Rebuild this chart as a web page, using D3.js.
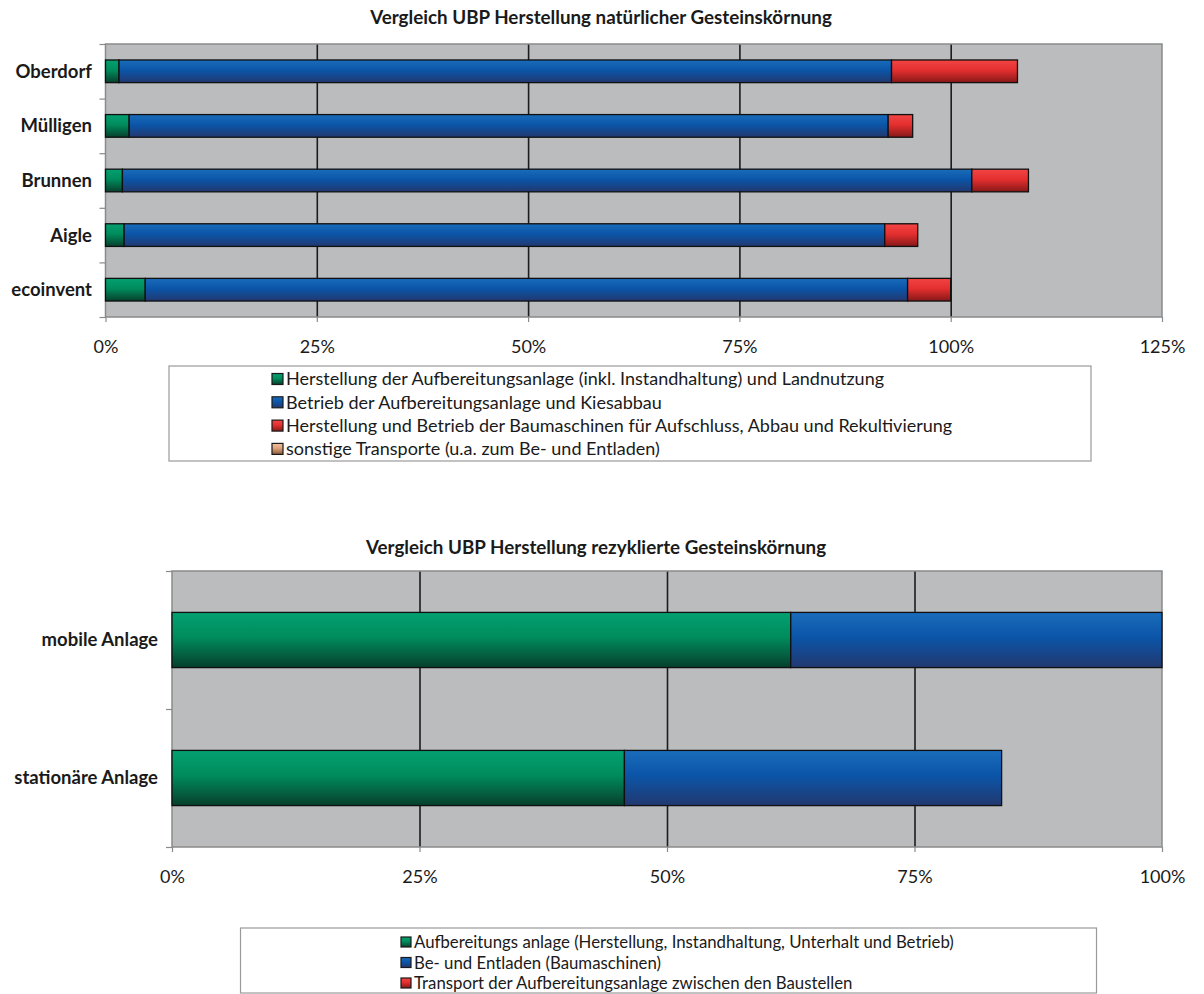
<!DOCTYPE html>
<html>
<head>
<meta charset="utf-8">
<script src="https://cdn.jsdelivr.net/npm/d3@7"></script>
<style>
  html, body { margin: 0; padding: 0; background: #fff; }
  svg { display: block; font-family: Lato, "Open Sans", sans-serif; }
</style>
</head>
<body>
<svg id="chart" width="1204" height="994"></svg>
<script>
// ---- Natural aggregate (percent of ecoinvent total) ----
const naturalTitle = "Vergleich UBP Herstellung natürlicher Gesteinskörnung";
const naturalSites = ["Oberdorf", "Mülligen", "Brunnen", "Aigle", "ecoinvent"];
const naturalSeries = [
  "Herstellung der Aufbereitungsanlage (inkl. Instandhaltung) und Landnutzung",
  "Betrieb der Aufbereitungsanlage und Kiesabbau",
  "Herstellung und Betrieb der Baumaschinen für Aufschluss, Abbau und Rekultivierung",
  "sonstige Transporte (u.a. zum Be- und Entladen)"
];
const naturalPlant     = [1.6, 2.8, 2.0, 2.2, 4.7];
const naturalOperation = [91.4, 89.8, 100.5, 90.0, 90.2];
const naturalMachines  = [14.9, 2.9, 6.7, 3.9, 5.1];
const naturalTransport = [0, 0, 0, 0, 0];
const naturalTicks = [0, 25, 50, 75, 100, 125];

// ---- Recycled aggregate (percent of mobile plant total) ----
const recycledTitle = "Vergleich UBP Herstellung rezyklierte Gesteinskörnung";
const recycledPlants = ["mobile Anlage", "stationäre Anlage"];
const recycledSeries = [
  "Aufbereitungs anlage (Herstellung, Instandhaltung, Unterhalt und Betrieb)",
  "Be- und Entladen (Baumaschinen)",
  "Transport der Aufbereitungsanlage zwischen den Baustellen"
];
const recycledPlant     = [62.5, 45.7];
const recycledLoading   = [37.5, 38.1];
const recycledTransport = [0, 0];
const recycledTicks = [0, 25, 50, 75, 100];

// colour ramps (top, middle, bottom) for the shaded bars
const ramps = {
  green: ["#04a071", "#008c5c", "#073f2c"],
  blue:  ["#1a6cbb", "#0b55a8", "#22386f"],
  red:   ["#f24444", "#e42f2f", "#861818"],
  tan:   ["#f2c29c", "#dca27a", "#8a5a3a"]
};

const svg = d3.select("#chart");
const defs = svg.append("defs");
Object.entries(ramps).forEach(([name, c]) => {
  const g = defs.append("linearGradient")
    .attr("id", "grad-" + name)
    .attr("x1", 0).attr("y1", 0).attr("x2", 0).attr("y2", 1);
  g.append("stop").attr("offset", "0%").attr("stop-color", c[0]);
  g.append("stop").attr("offset", "45%").attr("stop-color", c[1]);
  g.append("stop").attr("offset", "100%").attr("stop-color", c[2]);
});

function drawChart(cfg) {
  const { title, titleY, categories, seriesNames, values, colors, ticks,
          x0, x1, y0, y1, barRatio, labelX, tickLabelY, legend } = cfg;

  const rows = categories.map((c, i) => {
    const r = { cat: c };
    seriesNames.forEach((s, k) => { r[s] = values[k][i]; });
    return r;
  });
  const stacked = d3.stack().keys(seriesNames)(rows);

  const x = d3.scaleLinear().domain([0, d3.max(ticks)]).range([x0, x1]);
  const y = d3.scaleBand().domain(categories).range([y0, y1])
    .paddingInner(1 - barRatio).paddingOuter((1 - barRatio) / 2);
  const yIdx = d3.scaleLinear().domain([0, categories.length]).range([y0, y1]);

  // title
  svg.append("text")
    .attr("x", cfg.titleX).attr("y", titleY)
    .attr("text-anchor", "middle")
    .attr("font-weight", "bold").attr("font-size", cfg.titleSize)
    .attr("fill", "#1a1a1a")
    .text(title);

  // plot area
  svg.append("rect")
    .attr("x", x0).attr("y", y0).attr("width", x1 - x0).attr("height", y1 - y0)
    .attr("fill", "#babcbe");

  // vertical gridlines
  const grid = svg.append("g").attr("transform", `translate(0,${y1})`)
    .call(d3.axisBottom(x).tickValues(ticks.slice(1, -1)).tickSize(-(y1 - y0)).tickFormat(""));
  grid.select(".domain").remove();
  grid.selectAll("line").attr("stroke", "#1c1c1c").attr("stroke-width", 1.6);

  // plot border
  svg.append("rect")
    .attr("x", x0).attr("y", y0).attr("width", x1 - x0).attr("height", y1 - y0)
    .attr("fill", "none").attr("stroke", "#8a8a8a").attr("stroke-width", 1.5);

  // x-axis ticks and labels
  const xa = svg.append("g").attr("transform", `translate(0,${y1})`)
    .call(d3.axisBottom(x).tickValues(ticks).tickSize(5).tickFormat(d => d + "%"));
  xa.select(".domain").remove();
  xa.selectAll("line").attr("stroke", "#8a8a8a").attr("stroke-width", 1.2);
  xa.selectAll("text")
    .attr("y", tickLabelY - y1).attr("dy", null)
    .attr("font-family", "Lato, sans-serif")
    .attr("font-size", cfg.tickSize).attr("fill", "#1a1a1a");

  // y-axis ticks at category boundaries
  const ya = svg.append("g").attr("transform", `translate(${x0},0)`)
    .call(d3.axisLeft(yIdx).tickValues(d3.range(categories.length + 1)).tickSize(6).tickFormat(""));
  ya.select(".domain").remove();
  ya.selectAll("line").attr("stroke", "#8a8a8a").attr("stroke-width", 1.2);

  // category labels
  svg.append("g").selectAll("text").data(categories).join("text")
    .attr("x", labelX)
    .attr("y", d => y(d) + y.bandwidth() / 2 + cfg.labelSize * 0.35)
    .attr("text-anchor", "end")
    .attr("font-weight", "bold").attr("font-size", cfg.labelSize)
    .attr("fill", "#1a1a1a")
    .text(d => d);

  // stacked bars
  svg.append("g").selectAll("g").data(stacked).join("g")
    .attr("fill", (d, k) => `url(#grad-${colors[k]})`)
    .selectAll("rect").data(d => d.filter(p => p[1] - p[0] > 0)).join("rect")
    .attr("x", p => x(p[0]))
    .attr("y", p => y(p.data.cat))
    .attr("width", p => x(p[1]) - x(p[0]))
    .attr("height", y.bandwidth())
    .attr("stroke", "#101010").attr("stroke-width", 1.3);

  // legend
  const lg = svg.append("g");
  lg.append("rect")
    .attr("x", legend.x0).attr("y", legend.y0)
    .attr("width", legend.x1 - legend.x0).attr("height", legend.y1 - legend.y0)
    .attr("fill", "#fff").attr("stroke", "#9a9a9a").attr("stroke-width", 1.2);
  const items = lg.selectAll("g.item").data(seriesNames).join("g")
    .attr("class", "item")
    .attr("transform", (d, k) => `translate(${legend.sx},${legend.cy0 + k * legend.dy})`);
  items.append("rect")
    .attr("x", 0).attr("y", -legend.sw / 2).attr("width", legend.sw).attr("height", legend.sw)
    .attr("fill", (d, k) => `url(#grad-${colors[k]})`)
    .attr("stroke", "#1a1a1a").attr("stroke-width", 1.2);
  items.append("text")
    .attr("x", legend.sw + 3).attr("y", legend.size * 0.36)
    .attr("font-size", legend.size).attr("fill", "#1a1a1a")
    .text(d => d);
}

drawChart({
  title: naturalTitle, titleX: 601, titleY: 24, titleSize: 18.8,
  categories: naturalSites, seriesNames: naturalSeries,
  values: [naturalPlant, naturalOperation, naturalMachines, naturalTransport],
  colors: ["green", "blue", "red", "tan"], ticks: naturalTicks,
  x0: 105.5, x1: 1162, y0: 44, y1: 317, barRatio: 0.415,
  labelX: 92, labelSize: 18.5, tickLabelY: 353, tickSize: 18,
  legend: { x0: 169, y0: 366, x1: 1091, y1: 461, sx: 272, cy0: 379, dy: 23.3, sw: 11, size: 18 }
});

drawChart({
  title: recycledTitle, titleX: 596, titleY: 554, titleSize: 18.8,
  categories: recycledPlants, seriesNames: recycledSeries,
  values: [recycledPlant, recycledLoading, recycledTransport],
  colors: ["green", "blue", "red"], ticks: recycledTicks,
  x0: 172, x1: 1162, y0: 571, y1: 847, barRatio: 0.40,
  labelX: 158, labelSize: 18.5, tickLabelY: 883, tickSize: 18,
  legend: { x0: 240.5, y0: 928, x1: 1096.5, y1: 993, sx: 401, cy0: 942, dy: 20.5, sw: 10, size: 16.8 }
});
</script>
</body>
</html>
